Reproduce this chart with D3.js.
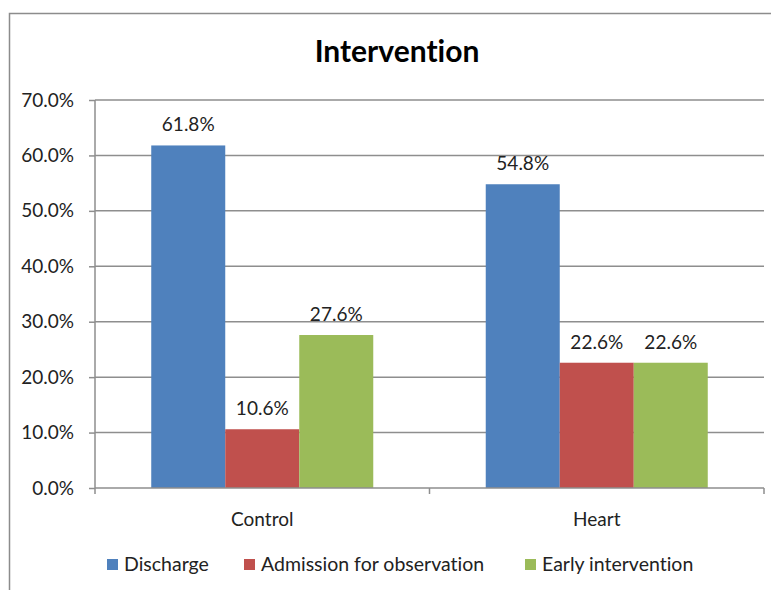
<!DOCTYPE html>
<html>
<head>
<meta charset="utf-8">
<script src="https://cdn.jsdelivr.net/npm/d3@7/dist/d3.min.js"></script>
<style>
  html, body { margin: 0; padding: 0; background: #fff; }
  svg { display: block; }
  text { font-family: Lato, "Open Sans", sans-serif; fill: #222; font-variant-ligatures: none; }
</style>
</head>
<body>
<svg id="chart" width="771" height="590"></svg>
<script>
// Chart data
const categories = ["Control", "Heart"];
const seriesNames = ["Discharge", "Admission for observation", "Early intervention"];
const discharge = [61.8, 54.8];
const admission = [10.6, 22.6];
const earlyIntervention = [27.6, 22.6];
const yTicks = [0, 10, 20, 30, 40, 50, 60, 70];
const title = "Intervention";

const seriesValues = [discharge, admission, earlyIntervention];
const colors = ["#4F81BD", "#C0504D", "#9BBB59"];

const svg = d3.select("#chart");
const W = 771, H = 590;
const plot = { left: 95, right: 764, top: 100, bottom: 488 };
const labelSize = "19px";

// Outer chart frame
svg.append("rect")
  .attr("x", 9.5).attr("y", 13.5)
  .attr("width", W + 10).attr("height", H + 10)
  .attr("fill", "none").attr("stroke", "#8c8c8c").attr("stroke-width", 1.5);

// Title
svg.append("text")
  .attr("x", 397).attr("y", 62)
  .attr("text-anchor", "middle")
  .style("font-size", "30px").style("font-weight", "bold")
  .style("fill", "#000")
  .text(title);

const x0 = d3.scaleBand().domain(categories).range([plot.left, plot.right]).paddingInner(0).paddingOuter(0);
const x1 = d3.scaleBand().domain(seriesNames).range([0, x0.bandwidth()]).paddingInner(0).paddingOuter(0.76);
const y = d3.scaleLinear().domain([0, 70]).range([plot.bottom, plot.top]);

// Horizontal gridlines
svg.append("g")
  .selectAll("line")
  .data(yTicks.filter(t => t > 0))
  .join("line")
  .attr("x1", plot.left).attr("x2", plot.right)
  .attr("y1", d => y(d)).attr("y2", d => y(d))
  .attr("stroke", "#8e8e8e").attr("stroke-width", 1.5);

// Bars
const groups = svg.append("g")
  .selectAll("g")
  .data(categories)
  .join("g")
  .attr("transform", d => `translate(${x0(d)},0)`);

groups.selectAll("rect")
  .data((c, ci) => seriesNames.map((s, si) => ({ s, si, v: seriesValues[si][ci] })))
  .join("rect")
  .attr("x", d => x1(d.s))
  .attr("width", x1.bandwidth())
  .attr("y", d => y(d.v))
  .attr("height", d => y(0) - y(d.v))
  .attr("fill", d => colors[d.si]);

// Value labels
groups.selectAll("text.val")
  .data((c, ci) => seriesNames.map((s, si) => ({ s, si, v: seriesValues[si][ci] })))
  .join("text")
  .attr("class", "val")
  .attr("x", d => x1(d.s) + x1.bandwidth() / 2)
  .attr("y", d => y(d.v) - 14)
  .attr("text-anchor", "middle")
  .style("font-size", labelSize)
  .text(d => d.v.toFixed(1) + "%");

// Y axis
const yAxis = d3.axisLeft(y).tickValues(yTicks).tickSize(6).tickPadding(15)
  .tickFormat(d => d.toFixed(1) + "%");
const gy = svg.append("g").attr("transform", `translate(${plot.left},0)`).call(yAxis);
gy.select(".domain").attr("stroke", "#8e8e8e").attr("stroke-width", 1.5).attr("d", `M0,${plot.top}V${plot.bottom}`);
gy.selectAll(".tick line").attr("stroke", "#8e8e8e").attr("stroke-width", 1.5);
gy.selectAll(".tick text").style("font-size", labelSize).style("font-family", "Lato, 'Open Sans', sans-serif").attr("fill", "#222");

// X axis with boundary ticks between categories
const gx = svg.append("g").attr("transform", `translate(0,${plot.bottom})`);
gx.append("line").attr("x1", plot.left).attr("x2", plot.right)
  .attr("stroke", "#8e8e8e").attr("stroke-width", 1.5);
const boundaries = categories.map(c => x0(c)).concat([x0(categories[categories.length - 1]) + x0.bandwidth()]);
gx.selectAll("line.b").data(boundaries).join("line").attr("class", "b")
  .attr("x1", d => d).attr("x2", d => d).attr("y1", 0).attr("y2", 6)
  .attr("stroke", "#8e8e8e").attr("stroke-width", 1.5);
gx.selectAll("text").data(categories).join("text")
  .attr("x", d => x0(d) + x0.bandwidth() / 2)
  .attr("y", 38)
  .attr("text-anchor", "middle")
  .style("font-size", labelSize)
  .text(d => d);

// Legend
const legendX = [107, 244, 525];
const lg = svg.append("g").selectAll("g").data(seriesNames).join("g")
  .attr("transform", (d, i) => `translate(${legendX[i]},565)`);
lg.append("rect").attr("x", 0).attr("y", -6).attr("width", 11).attr("height", 11)
  .attr("fill", (d, i) => colors[i]);
lg.append("text").attr("x", 17).attr("y", 6).style("font-size", "19.5px").text(d => d);
</script>
</body>
</html>
